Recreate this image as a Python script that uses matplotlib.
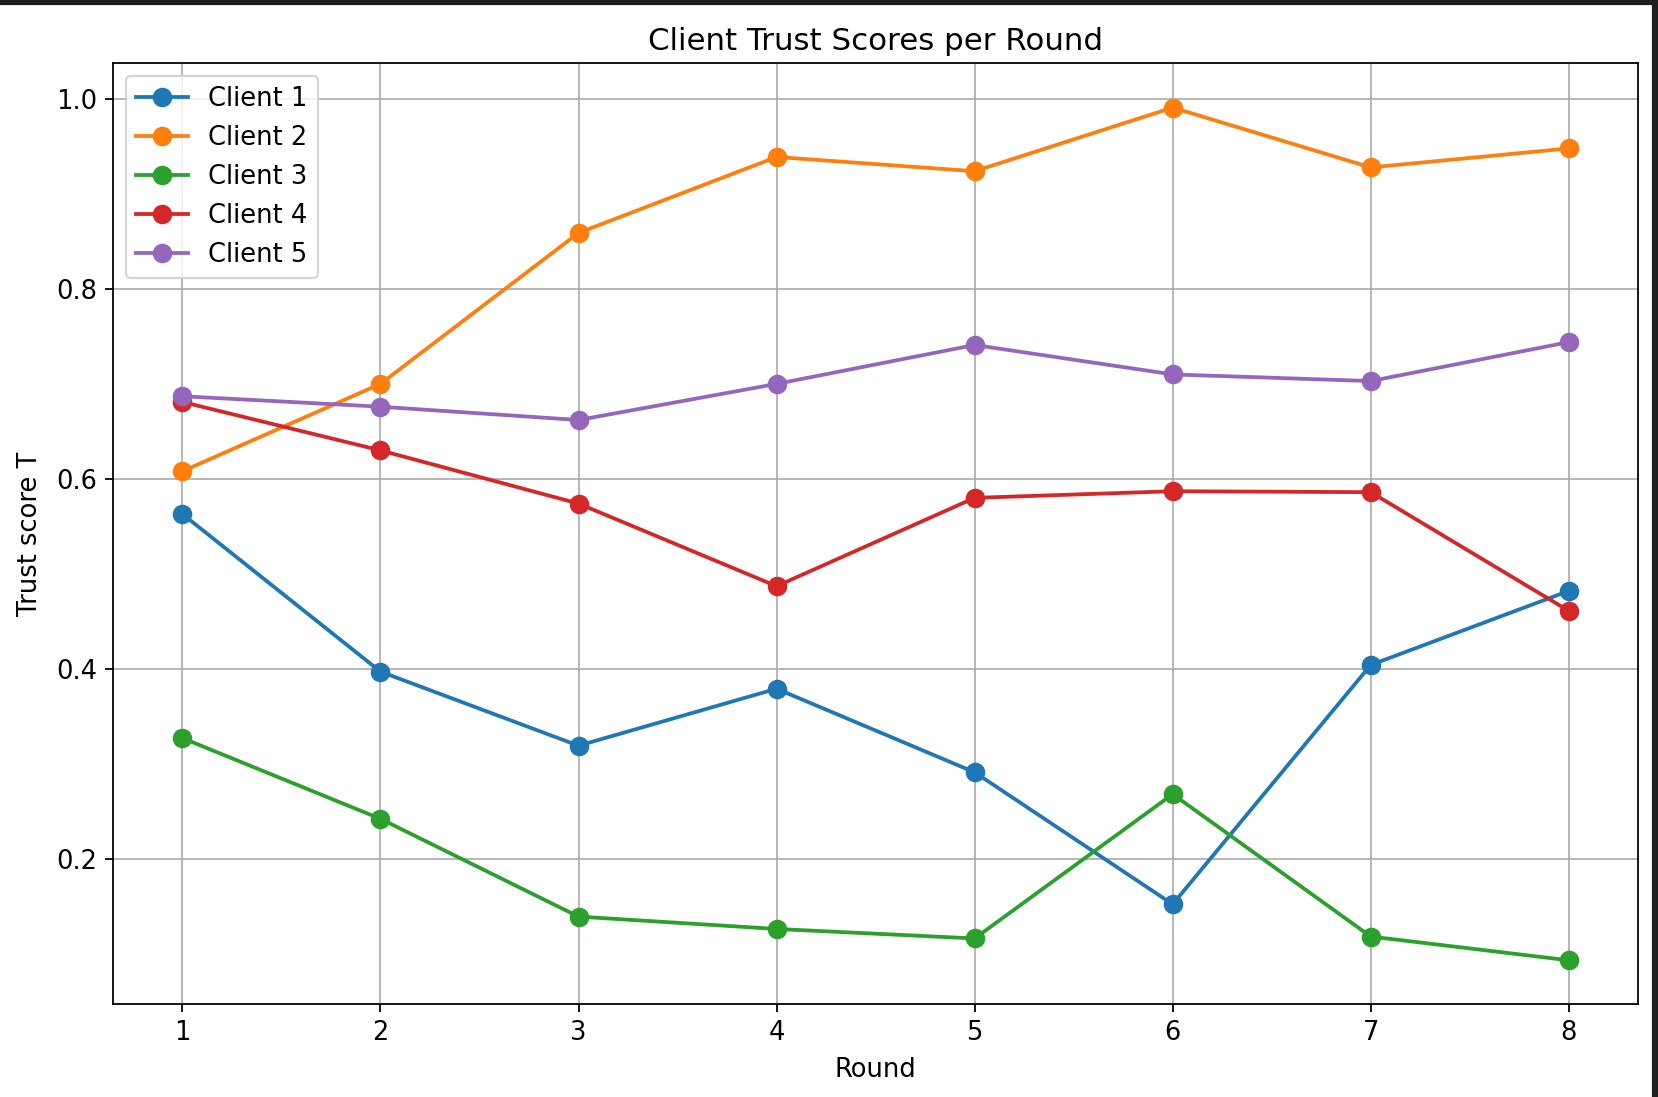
import matplotlib
matplotlib.use("Agg")
import matplotlib.pyplot as plt
from matplotlib.patches import Rectangle

rounds = [1, 2, 3, 4, 5, 6, 7, 8]
client1 = [0.563, 0.397, 0.319, 0.379, 0.291, 0.152, 0.404, 0.482]
client2 = [0.608, 0.700, 0.859, 0.939, 0.924, 0.991, 0.928, 0.948]
client3 = [0.327, 0.242, 0.139, 0.126, 0.116, 0.268, 0.118, 0.093]
client4 = [0.681, 0.630, 0.574, 0.487, 0.580, 0.587, 0.586, 0.461]
client5 = [0.687, 0.676, 0.662, 0.700, 0.741, 0.710, 0.703, 0.744]
names = ["Client 1", "Client 2", "Client 3", "Client 4", "Client 5"]

plt.rcParams['font.size'] = 11.6
plt.rcParams['axes.titlesize'] = 13.9

fig = plt.figure(figsize=(1658 / 160, 1097 / 160), dpi=160)
ax = fig.add_axes([0.0682, 0.0848, 0.9198, 0.8578])

for vals, name in zip([client1, client2, client3, client4, client5], names):
    ax.plot(rounds, vals, marker="o", markersize=7.8, linewidth=1.7, label=name)

ax.set_title("Client Trust Scores per Round")
ax.set_xlabel("Round", labelpad=5)
ax.set_ylabel("Trust score T", labelpad=6)
ax.set_xticks(rounds)
ax.set_ylim(0.047, 1.038)
ax.grid(True)
ax.legend(loc="upper left", labelspacing=0.5)

# dark screenshot frame at top and right
fig.patches.append(Rectangle((0, 1 - 4 / 1097), 1, 4 / 1097, transform=fig.transFigure,
                             color="#1f1f1f", zorder=10))
fig.patches.append(Rectangle((1653 / 1658, 0), 5 / 1658, 1, transform=fig.transFigure,
                             color="#1f1f1f", zorder=10))

fig.savefig("out.png", dpi=160)
